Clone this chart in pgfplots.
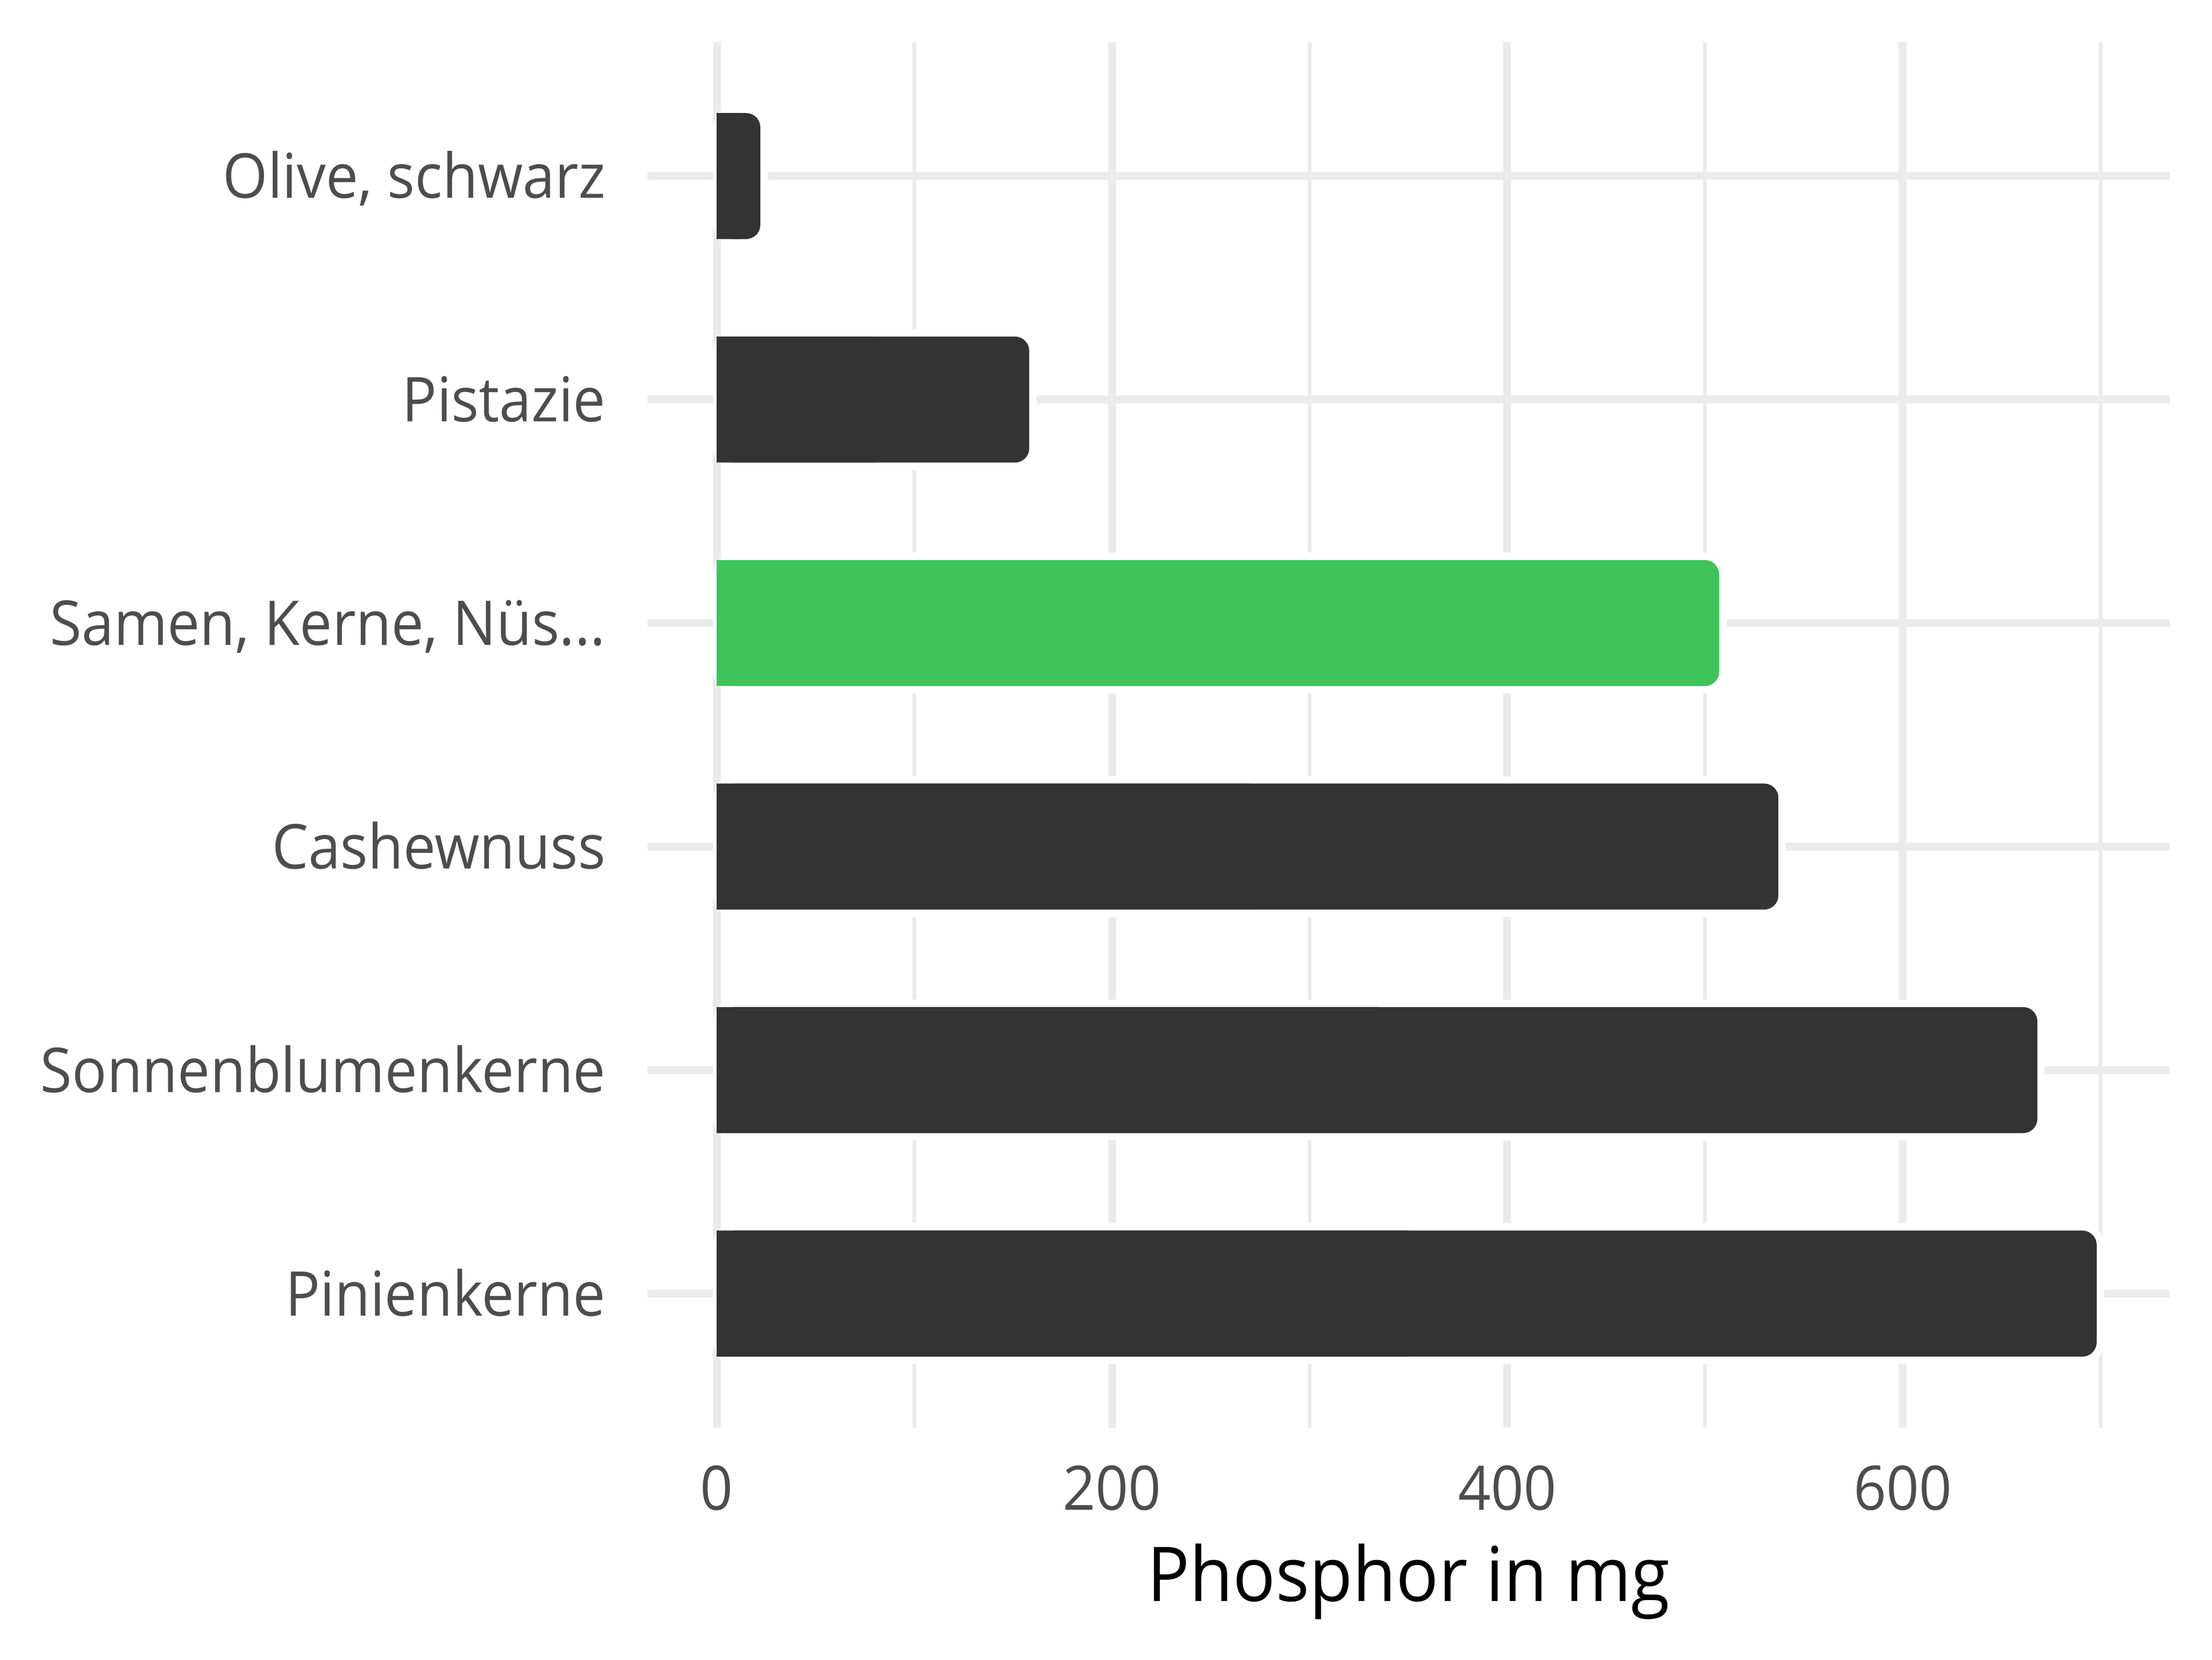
\documentclass[border=0pt]{standalone}
\usepackage{fontspec}
\setmainfont{Open Sans}[FakeStretch=0.935]
\usepackage{pgfplots}
\pgfplotsset{compat=1.18}
\definecolor{bardark}{HTML}{333333}
\definecolor{bargreen}{HTML}{3EC35A}
\definecolor{gridc}{HTML}{EBEBEB}
\definecolor{tickc}{HTML}{4D4D4D}
\newcommand{\samenlabel}{Samen, Kerne, Nüs...}
\begin{document}
\begin{tikzpicture}
\useasboundingbox (0,0) rectangle (480pt,360pt);
\begin{axis}[
  at={(140.5pt,50.3pt)}, anchor=south west,
  scale only axis, width=330.3pt, height=300.6pt,
  xmin=-35, xmax=735, ymin=-0.6, ymax=5.6,
  xbar, bar width=0.597, bar shift=0pt,
  xtick={0,200,400,600}, minor xtick={100,300,500,700},
  ytick={0,1,2,3,4,5},
  yticklabels={Pinienkerne, Sonnenblumenkerne, Cashewnuss, {\samenlabel}, Pistazie, {Olive, schwarz}},
  xmajorgrids, xminorgrids, ymajorgrids,
  major grid style={gridc, line width=1.7pt},
  minor grid style={gridc, line width=0.8pt},
  axis line style={draw=none},
  major tick length=0pt, minor tick length=0pt,
  tick style={draw=none},
  /pgf/number format/assume math mode=true,
  xticklabel style={font=\fontsize{13.3}{16}\selectfont, text=tickc, anchor=base, inner sep=0pt, yshift=-17.8pt},
  yticklabel style={font=\fontsize{13.4}{16}\selectfont, text=tickc, anchor=base east, inner sep=0pt, xshift=-8.9pt, yshift=-4.8pt},
  xlabel={Phosphor in mg},
  xlabel style={font=\fontsize{16.4}{20}\selectfont, text=black, at={(axis description cs:0.5,0)}, anchor=base, inner sep=0pt, yshift=-37.6pt},
]
% rounded bars
\addplot[fill=bardark, draw=white, line width=1.6pt, rounded corners=3.9pt] coordinates {(700,0) (670,1) (539,2) (160,4) (24,5)};
\addplot[fill=bargreen, draw=white, line width=1.6pt, rounded corners=3.9pt] coordinates {(509,3)};
% square left halves
\addplot[fill=bardark, draw=none, bar width=0.564] coordinates {(350,0) (335,1) (269.5,2) (80,4) (12,5)};
\addplot[fill=bargreen, draw=none, bar width=0.564] coordinates {(254.5,3)};
\end{axis}
\end{tikzpicture}
\end{document}
